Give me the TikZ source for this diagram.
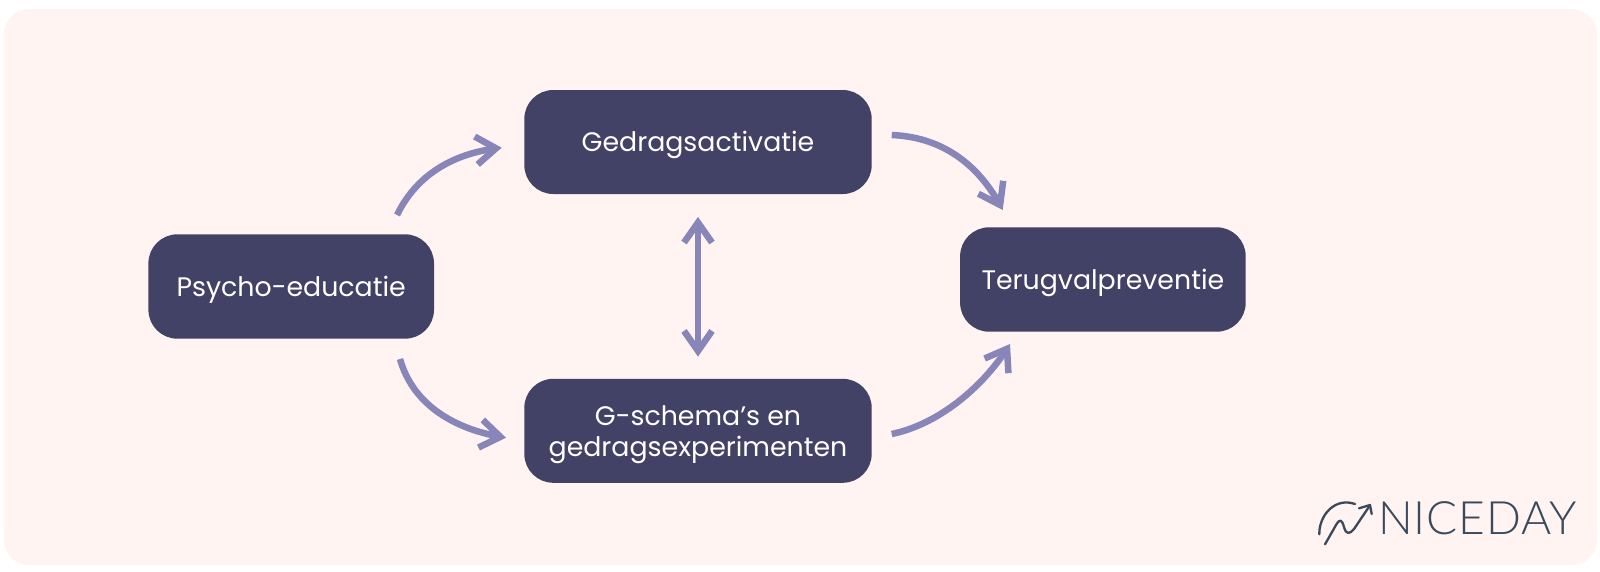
\documentclass[tikz,border=0pt]{standalone}
\usepackage{fontspec}
\setmainfont{Poppins}
\newfontfamily\logofont[LetterSpace=2]{Lato Light}
\usetikzlibrary{arrows.meta,bending}
\definecolor{bgpink}{RGB}{255,244,242}
\definecolor{boxdark}{RGB}{66,65,102}
\definecolor{arrowblue}{RGB}{136,134,185}
\definecolor{logoslate}{RGB}{58,74,92}
\tikzset{
  stage/.style={fill=boxdark,draw=none,rounded corners=29pt,inner sep=0pt,text=white,align=center,
    font=\fontsize{26.8}{31.4}\selectfont},
  widebox/.style={stage,minimum width=347.4pt,minimum height=104pt},
  narrowbox/.style={stage,minimum width=285.6pt,minimum height=104.4pt},
  flow/.style={draw=arrowblue,line width=6.5pt,-{Straight Barb[length=20pt,width=28pt,flex=1]}},
  both/.style={draw=arrowblue,line width=6.5pt,{Straight Barb[length=20pt,width=28pt]}-{Straight Barb[length=20pt,width=28pt]}},
  logoline/.style={draw=logoslate,line width=2.3pt,line cap=round,line join=round}
}
\begin{document}
\begin{tikzpicture}[x=1pt,y=-1pt]
\useasboundingbox (0,0) rectangle (1600,571);
\fill[bgpink,rounded corners=25pt] (4,9) rectangle (1597,565);
\node[narrowbox,text height=19pt,text depth=-3pt] (psy) at (291.2,286.5) {Psycho-educatie};
\node[widebox,text height=19pt,text depth=-3pt] (ged) at (698,142) {Gedragsactivatie};
\node[widebox] (sch) at (698,430.8) {\rule{0pt}{28pt}G-schema’s en\\gedragsexperimenten};
\node[narrowbox,text height=19pt,text depth=-3pt] (ter) at (1102.9,279.5) {Terugvalpreventie};
\coordinate (a1s) at (397,215);
\coordinate (a1e) at (501.7,147.7);
\coordinate (a2s) at (891.7,135);
\coordinate (a2e) at (1002.7,210);
\coordinate (a3s) at (891.7,434);
\coordinate (a3e) at (1010,344);
\coordinate (a4s) at (400,359);
\coordinate (a4e) at (506,437.7);
\draw[flow] (a1s) .. controls (419,170) and (460,152) .. (a1e);
\draw[flow] (a2s) .. controls (940,137) and (978,162) .. (a2e);
\draw[flow] (a3s) .. controls (940,424) and (985,385) .. (a3e);
\draw[flow] (a4s) .. controls (413,405) and (455,430) .. (a4e);
\draw[both,shorten <=22.7pt,shorten >=22pt] (ged.south) -- (sch.north);
% logo
\draw[logoline] (1319.3,534.3) .. controls (1319,515) and (1335,497) .. (1355,504);
\draw[logoline] (1325,544.3) -- (1336,525) .. controls (1340,518) and (1342,520) .. (1344,527)
  .. controls (1346,535) and (1350,534) .. (1354,529) -- (1369.5,506);
\draw[logoline] (1359,508.3) -- (1370,505) -- (1371.7,514);
\node[inner sep=0pt,anchor=west,text=logoslate,font=\logofont\fontsize{46}{46}\selectfont] (logo) at (1378,518.5) {NICEDAY};
\end{tikzpicture}
\end{document}
